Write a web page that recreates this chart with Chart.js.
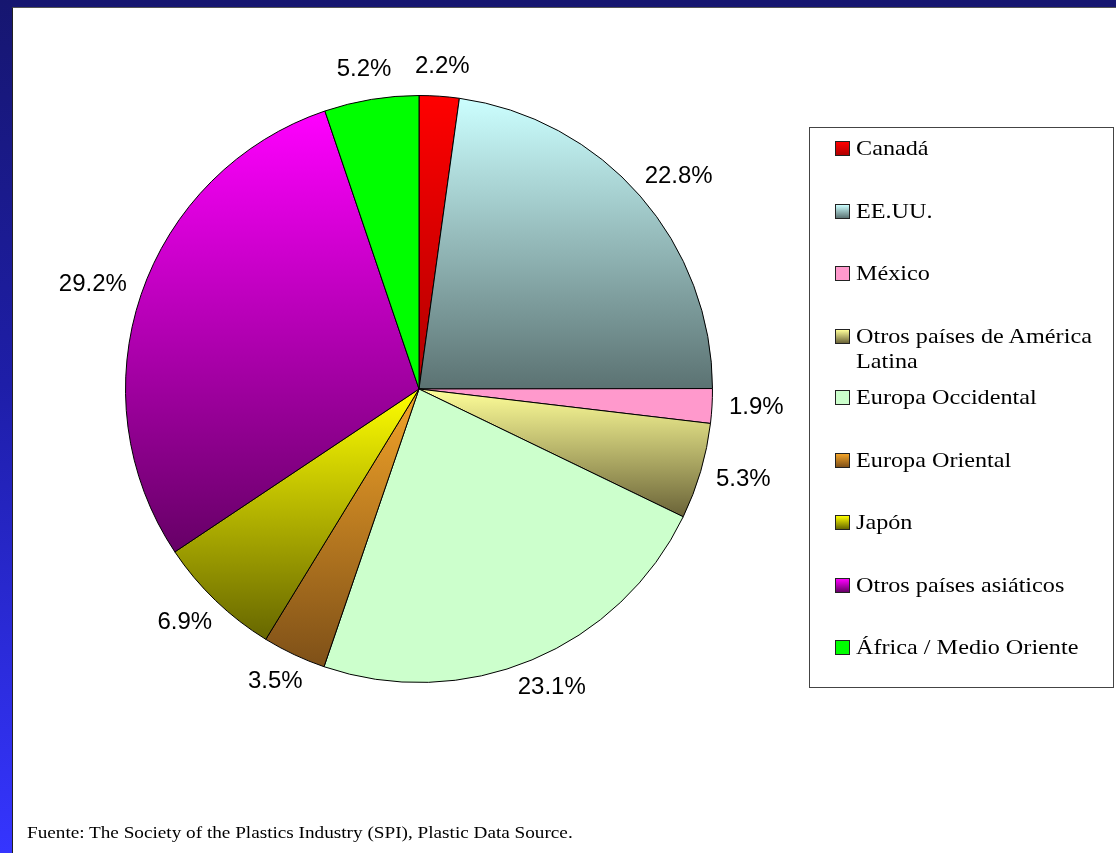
<!DOCTYPE html>
<html>
<head>
<meta charset="utf-8">
<script src="https://cdn.jsdelivr.net/npm/chart.js@4"></script>
<style>
  html, body { margin: 0; padding: 0; }
  body {
    width: 1116px; height: 853px; overflow: hidden; position: relative;
    background: linear-gradient(to bottom, #161670 0%, #1e1ea8 45%, #3535ff 100%);
  }
  #sheet {
    position: absolute; left: 12px; top: 7px; right: 0; bottom: 0;
    background: #fff; border-left: 1px solid #222; border-top: 1px solid #555;
  }
  #wrap { position: absolute; left: 0; top: 0; width: 1103px; height: 845px; }
  #legend {
    position: absolute; left: 796px; top: 119px; width: 305px; height: 561px;
    border: 1px solid #444; box-sizing: border-box;
    font-family: "Liberation Serif", "Times New Roman", serif; font-size: 22px; color: #000;
    margin: 0; padding: 0; list-style: none;
  }
  #legend li { position: absolute; left: 25px; width: 275px; line-height: 25px; }
  #legend .sw {
    position: absolute; left: 0; top: 6px; width: 13px; height: 13px; border: 1px solid #222;
  }
  #legend .tx {
    display: block; margin-left: 21px; width: 225px;
    transform-origin: 0 0; transform: scaleX(1.1);
  }
  #note {
    position: absolute; left: 14px; top: 816px; white-space: nowrap;
    font-family: "Liberation Serif", "Times New Roman", serif; font-size: 16px; color: #000;
    transform-origin: 0 50%; transform: scaleX(1.2);
  }
</style>
</head>
<body>
<div id="sheet">
  <div id="wrap"><canvas id="myChart"></canvas></div>
  <ul id="legend"></ul>
  <div id="note">Fuente: The Society of the Plastics Industry (SPI), Plastic Data Source.</div>
</div>
<script>
const regions = ['Canadá', 'EE.UU.', 'México', 'Otros países de América Latina', 'Europa Occidental',
  'Europa Oriental', 'Japón', 'Otros países asiáticos', 'África / Medio Oriente'];
const shares = [2.2, 22.8, 1.9, 5.3, 23.1, 3.5, 6.9, 29.2, 5.2];
const pctLabels = ['2.2%', '22.8%', '1.9%', '5.3%', '23.1%', '3.5%', '6.9%', '29.2%', '5.2%'];
// top / bottom colour of each slice's vertical shading
const topColors = ['#ff0000', '#ccffff', '#ff99cc', '#ffff99', '#ccffcc', '#f4a428', '#ffff00', '#ff00ff', '#00ff00'];
const bottomColors = ['#b00000', '#5b7272', '#ff99cc', '#6a6338', '#ccffcc', '#7e5018', '#666600', '#660066', '#00ff00'];

// gradient over the bounding box of a slice, worked out from the chart area
function sliceFill(ctx) {
  const chart = ctx.chart;
  const i = ctx.dataIndex;
  const area = chart.chartArea;
  if (!area) return topColors[i];
  const cx = (area.left + area.right) / 2;
  const cy = (area.top + area.bottom) / 2;
  const r = Math.min(area.right - area.left, area.bottom - area.top) / 2;
  const total = shares.reduce((a, b) => a + b, 0);
  let before = 0;
  for (let k = 0; k < i; k++) before += shares[k];
  const a0 = -Math.PI / 2 + before / total * Math.PI * 2;
  const a1 = a0 + shares[i] / total * Math.PI * 2;
  const ys = [cy, cy + r * Math.sin(a0), cy + r * Math.sin(a1)];
  for (let k = -4; k <= 8; k++) {
    const a = k * Math.PI / 2;
    if (a > a0 && a < a1) ys.push(cy + r * Math.sin(a));
  }
  const y0 = Math.min(...ys), y1 = Math.max(...ys);
  const g = chart.ctx.createLinearGradient(0, y0, 0, y1);
  g.addColorStop(0, topColors[i]);
  g.addColorStop(1, bottomColors[i]);
  return g;
}

const outsideLabels = {
  id: 'outsideLabels',
  afterDatasetsDraw(chart) {
    const ctx = chart.ctx;
    const meta = chart.getDatasetMeta(0);
    ctx.save();
    ctx.font = '24px "Liberation Sans", Arial, sans-serif';
    ctx.fillStyle = '#000';
    ctx.textAlign = 'center';
    ctx.textBaseline = 'middle';
    meta.data.forEach((arc, i) => {
      const mid = (arc.startAngle + arc.endAngle) / 2;
      const d = arc.outerRadius + 17;
      const w = ctx.measureText(pctLabels[i]).width;
      const h = 26;
      const x = arc.x + Math.cos(mid) * d + Math.cos(mid) * w / 2;
      const y = arc.y + Math.sin(mid) * d + Math.sin(mid) * h / 2;
      ctx.fillText(pctLabels[i], x, y);
    });
    ctx.restore();
  }
};

const config = {
  type: 'pie',
  data: {
    labels: regions,
    datasets: [{
      data: shares,
      backgroundColor: sliceFill,
      borderColor: '#000',
      borderWidth: 1
    }]
  },
  options: {
    responsive: true,
    maintainAspectRatio: false,
    animation: false,
    layout: { padding: { left: 112, top: 87, right: 403, bottom: 170 } },
    plugins: {
      legend: { display: false },
      tooltip: { enabled: false }
    }
  },
  plugins: [outsideLabels]
};

const myChart = new Chart(document.getElementById('myChart'), config);

// legend in its own box, same order as the slices
const legendTops = [7, 70, 132, 195, 256, 319, 381, 444, 506];
const legend = document.getElementById('legend');
regions.forEach((name, i) => {
  const li = document.createElement('li');
  li.style.top = legendTops[i] + 'px';
  const sw = document.createElement('span');
  sw.className = 'sw';
  sw.style.background = 'linear-gradient(' + topColors[i] + ',' + bottomColors[i] + ')';
  const tx = document.createElement('span');
  tx.className = 'tx';
  tx.textContent = name;
  li.appendChild(sw);
  li.appendChild(tx);
  legend.appendChild(li);
});
</script>
</body>
</html>
